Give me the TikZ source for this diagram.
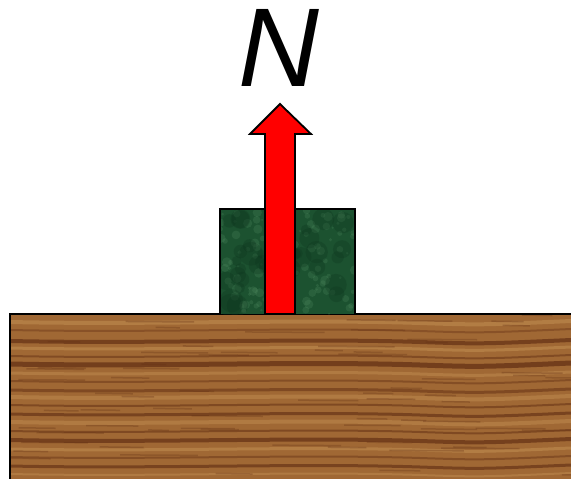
\documentclass[tikz,border=0pt]{standalone}
\usepackage{fontspec}
\setmainfont{Liberation Sans}
\definecolor{woodbase}{RGB}{160,104,52}
\definecolor{wooddark}{RGB}{100,48,20}
\definecolor{woodlight}{RGB}{196,146,84}
\definecolor{marblebase}{RGB}{28,82,48}
\definecolor{marblelight}{RGB}{90,150,105}
\definecolor{marbledark}{RGB}{12,50,28}
\tikzset{
  outline/.style={draw=black, line width=2pt},
  arrowshape/.style={fill=red, draw=black, line width=1.8pt, line join=miter},
}
\begin{document}
\begin{tikzpicture}[x=1pt,y=-1pt]
\useasboundingbox (0,0) rectangle (571,479);
% table
\fill[woodbase] (10,314) rectangle (571,479);
\begin{scope}
\clip (10,314) rectangle (571,479);
\foreach \yy/\w/\c/\o in {322/4/woodlight/0.5, 330/2/wooddark/0.4, 341/4/wooddark/0.7, 348/3/woodlight/0.5,
  356/2/wooddark/0.5, 364/5/wooddark/0.75, 373/3/woodlight/0.45, 381/2/wooddark/0.45, 390/3/wooddark/0.55,
  397/4/woodlight/0.45, 405/2/wooddark/0.55, 414/3/wooddark/0.65, 422/4/woodlight/0.45, 431/2/wooddark/0.55,
  440/4/wooddark/0.7, 449/3/woodlight/0.5, 457/2/wooddark/0.45, 466/3/wooddark/0.65, 474/2/woodlight/0.45}
{
  \draw[\c, opacity=\o, line width=\w pt] (10,\yy) .. controls (150,\yy+3) and (300,\yy-3) .. (420,\yy+1) .. controls (480,\yy+3) .. (571,\yy-1);
}
\pgfmathsetseed{11}
\foreach \i in {1,...,70}{
  \pgfmathsetmacro{\px}{10+561*rnd}
  \pgfmathsetmacro{\py}{314+165*rnd}
  \pgfmathsetmacro{\ll}{20+60*rnd}
  \draw[wooddark, opacity=0.3, line width=1.5pt] (\px,\py) -- ++(\ll,0.5);
}
\end{scope}
\draw[outline] (571,314) -- (10,314) -- (10,479);
% block
\fill[marblebase] (220,209) rectangle (355,314);
\begin{scope}
\clip (220,209) rectangle (355,314);
\pgfmathsetseed{7}
\foreach \i in {1,...,120}{
  \pgfmathsetmacro{\px}{220+135*rnd}
  \pgfmathsetmacro{\py}{209+105*rnd}
  \pgfmathsetmacro{\rr}{1+4*rnd}
  \fill[marblelight, opacity=0.22] (\px,\py) circle[radius=\rr];
}
\foreach \i in {1,...,40}{
  \pgfmathsetmacro{\px}{220+135*rnd}
  \pgfmathsetmacro{\py}{209+105*rnd}
  \pgfmathsetmacro{\rr}{4+8*rnd}
  \fill[marbledark, opacity=0.25] (\px,\py) circle[radius=\rr];
}
\end{scope}
\draw[outline] (220,314) -- (220,209) -- (355,209) -- (355,314);
% arrow
\draw[arrowshape] (265,314) -- (265,134) -- (250,134) -- (280,104) -- (311,134) -- (295,134) -- (295,314) -- cycle;
% label
\node[font=\fontsize{112}{112}\selectfont\itshape, inner sep=0pt, anchor=base] (N) at (279,86) {N};
\end{tikzpicture}
\end{document}
